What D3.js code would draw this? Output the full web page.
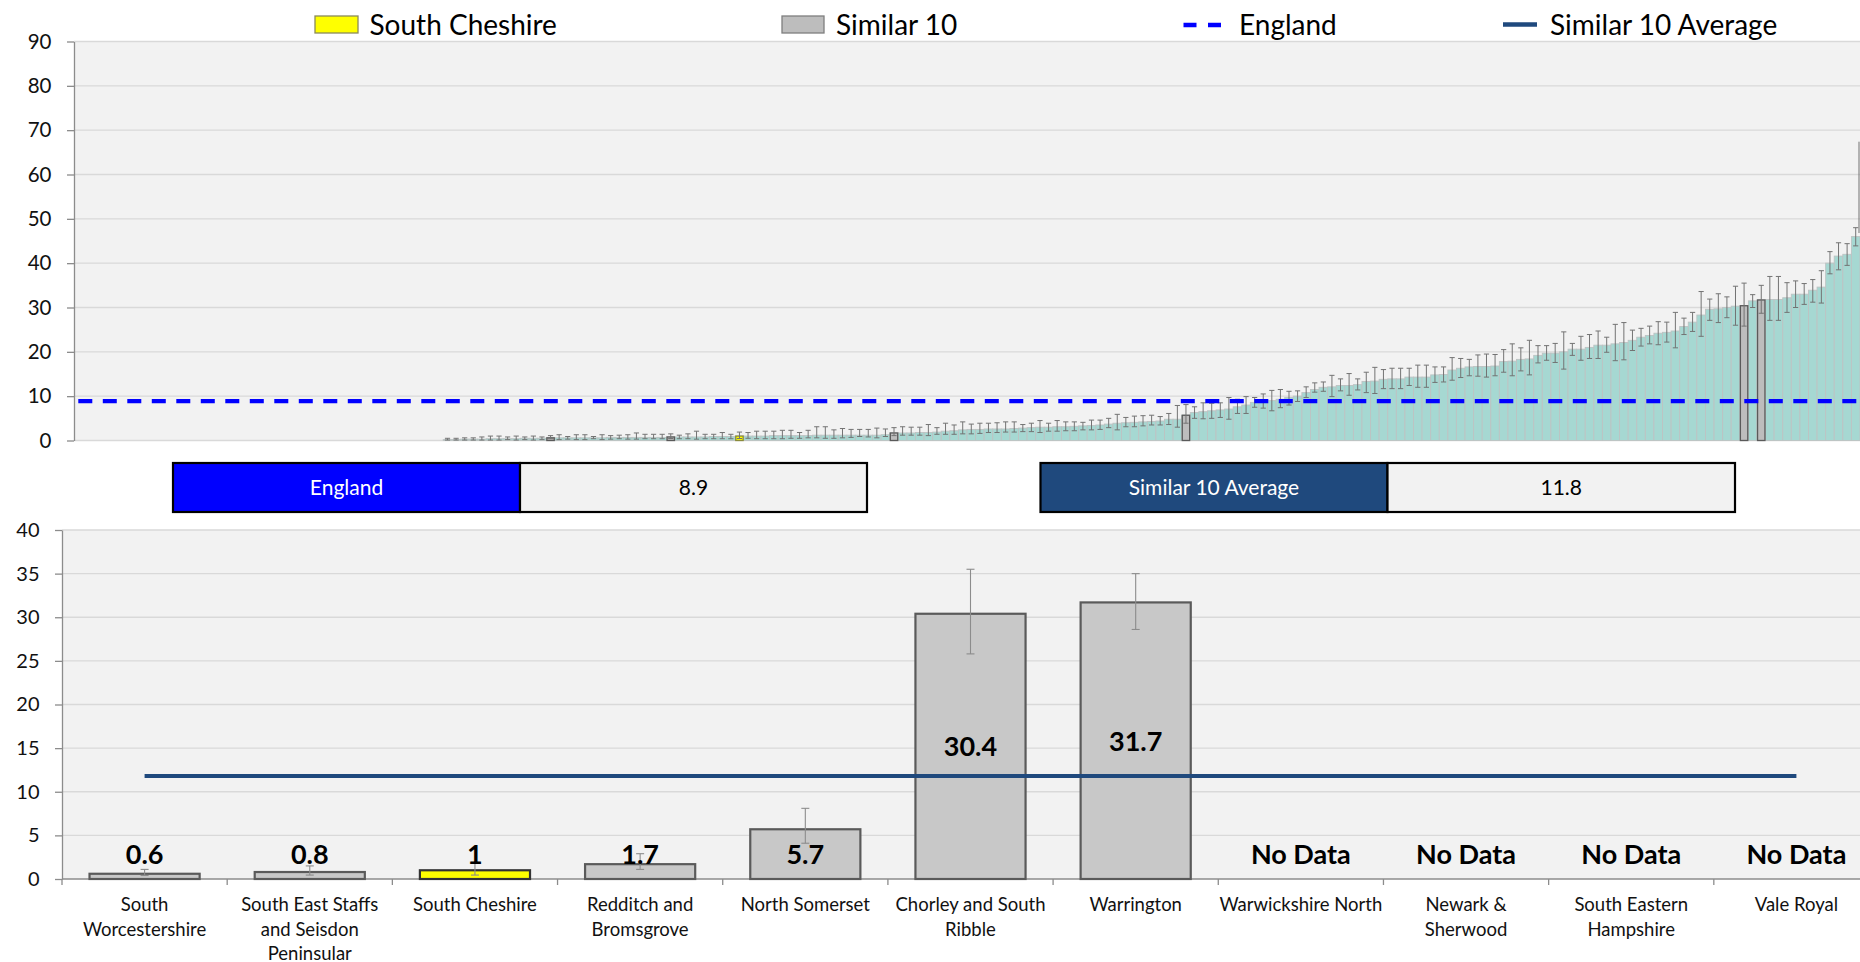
<!DOCTYPE html>
<html><head><meta charset="utf-8">
<script src="https://cdn.jsdelivr.net/npm/d3@7"></script>
<style>
body{margin:0;background:#fff}
svg{display:block}
text{font-family:Lato,'Open Sans','Liberation Sans',sans-serif}
</style>
</head><body>
<svg id="c" width="1860" height="962"></svg>
<script>
// ---------------- DATA ----------------
// Ranked distribution of all areas (top chart); null = no value shown
const rankedValues = [
 null,null,null,null,null,null,null,null,null,null,
 null,null,null,null,null,null,null,null,null,null,
 null,null,null,null,null,null,null,null,null,null,
 null,null,null,null,null,null,null,null,null,null,
 null,null,null,
 0.2,0.2,0.3,0.3,0.3,0.4,0.4,0.4,0.4,0.5,0.5,0.5,0.6,0.6,0.6,0.6,0.6,0.6,0.6,0.7,
 0.7,0.7,0.7,0.7,0.7,0.7,0.8,0.8,0.8,0.8,0.8,0.9,0.9,0.9,1.0,1.0,1.0,1.0,1.1,1.1,
 1.1,1.1,1.1,1.2,1.2,1.2,1.2,1.2,1.2,1.2,1.2,
 1.3,1.7,1.7,1.7,1.8,1.8,1.9,2.1,2.2,2.4,2.5,2.5,2.6,2.6,2.6,2.7,2.8,2.9,3.0,3.0,
 3.1,3.1,3.2,3.3,3.4,3.5,3.7,3.9,
 4.0,4.1,4.2,4.3,4.4,4.8,4.8,5.7,6.3,6.5,6.7,6.9,7.1,7.6,8.0,8.6,8.6,9.0,9.3,9.7,
 10.0,10.8,11.5,12.0,12.1,12.4,12.4,12.6,13.3,
 13.4,13.8,13.9,13.9,14.3,14.3,14.3,14.8,14.9,15.9,16.3,16.6,16.7,16.7,16.8,17.8,
 17.9,18.3,18.4,19.2,19.7,19.7,20.0,20.6,20.6,21.0,21.5,21.5,
 21.8,22.1,22.6,23.3,23.7,24.2,24.4,24.7,25.7,26.7,28.3,29.6,29.7,30.0,30.3,30.4,
 31.5,31.7,31.8,31.8,32.2,33.0,33.0,33.9,34.6,40.0,41.6,42.0,46.0
];
const rankedLower = [
 null,null,null,null,null,null,null,null,null,null,
 null,null,null,null,null,null,null,null,null,null,
 null,null,null,null,null,null,null,null,null,null,
 null,null,null,null,null,null,null,null,null,null,
 null,null,null,
 0.1,0.1,0.1,0.1,0.1,0.1,0.1,0.2,0.1,0.2,0.1,0.2,0.4,0.2,0.3,0.2,0.2,0.4,0.2,0.3,
 0.4,0.3,0.3,0.4,0.4,0.4,0.45,0.4,0.4,0.3,0.4,0.4,0.4,0.4,0.45,0.5,0.4,0.4,0.4,0.4,
 0.5,0.5,0.6,0.6,0.5,0.5,0.6,0.7,0.9,0.8,0.6,
 0.9,1.1,1.2,1.2,1.2,1.1,1.4,1.4,1.4,1.5,1.5,1.6,1.8,1.8,1.9,1.9,2.0,2.0,1.8,2.1,
 2.1,2.2,2.2,2.4,2.4,2.5,2.9,2.4,
 3.1,3.1,3.3,3.5,3.5,3.6,3.0,3.9,5.0,4.9,5.0,5.2,4.8,6.1,6.1,7.5,7.3,6.7,7.4,8.0,
 8.8,9.7,10.9,11.1,9.9,11.2,10.2,11.4,10.8,
 10.6,11.7,11.7,11.7,12.4,12.0,12.0,13.1,13.2,13.6,14.2,14.6,14.5,14.3,14.6,15.4,
 14.6,15.7,14.8,17.5,18.1,17.6,16.1,19.2,18.1,18.5,18.5,19.9,
 18.0,18.2,20.3,21.3,21.8,21.6,22.2,20.9,23.9,24.6,23.5,27.1,26.6,27.7,26.0,25.8,
 30.0,28.7,27.1,27.1,28.9,30.0,30.7,31.2,31.0,37.6,38.5,39.5,43.9
];
const rankedUpper = [
 null,null,null,null,null,null,null,null,null,null,
 null,null,null,null,null,null,null,null,null,null,
 null,null,null,null,null,null,null,null,null,null,
 null,null,null,null,null,null,null,null,null,null,
 null,null,null,
 0.5,0.5,0.6,0.6,0.8,1.0,1.0,0.8,1.0,0.8,1.0,0.8,1.1,1.3,0.9,1.3,1.3,0.9,1.3,1.1,
 1.2,1.3,1.7,1.4,1.4,1.4,1.5,1.2,1.5,2.1,1.4,1.4,1.8,1.4,1.9,1.8,2.1,2.1,2.1,2.3,
 2.3,1.8,2.3,3.1,3.1,2.4,2.7,2.5,2.5,2.5,2.8,
 2.6,2.9,3.1,3.0,3.0,3.6,2.9,3.9,3.5,4.2,3.7,3.9,3.9,4.0,4.2,4.2,3.6,3.9,4.5,3.9,
 4.5,4.2,4.2,4.1,4.6,4.6,5.0,5.9,
 5.2,5.5,5.6,5.7,5.4,6.1,7.9,8.1,7.6,8.5,8.4,8.5,9.7,9.3,9.9,9.7,10.5,11.3,11.5,11.1,
 11.2,12.1,13.0,13.2,14.7,13.9,15.1,13.9,15.4,
 16.5,16.0,16.3,16.3,16.3,17.0,17.0,16.6,16.6,18.7,18.5,18.3,19.3,19.5,19.4,20.5,
 21.8,20.9,22.6,21.4,21.4,21.9,24.5,21.9,23.5,23.9,24.7,23.3,
 26.2,26.6,24.9,25.3,25.8,26.8,26.7,28.9,27.6,28.9,33.6,31.9,33.1,32.4,34.8,35.5,
 32.9,35.0,37.0,37.0,35.6,36.0,35.4,36.3,38.3,42.6,44.6,44.4,48.0
];
// whisker of the next (cropped) area visible at the right edge
const edgeWhisker = [46.8, 67.4];

const topTicks = [0,10,20,30,40,50,60,70,80,90];
const bottomTicks = [0,5,10,15,20,25,30,35,40];

const similarNames = ["South Worcestershire","South East Staffs and Seisdon Peninsular","South Cheshire",
  "Redditch and Bromsgrove","North Somerset","Chorley and South Ribble","Warrington",
  "Warwickshire North","Newark & Sherwood","South Eastern Hampshire","Vale Royal"];
const similarLabelLines = [["South","Worcestershire"],["South East Staffs","and Seisdon","Peninsular"],
  ["South Cheshire"],["Redditch and","Bromsgrove"],["North Somerset"],["Chorley and South","Ribble"],
  ["Warrington"],["Warwickshire North"],["Newark &","Sherwood"],["South Eastern","Hampshire"],["Vale Royal"]];
const similarValues = [0.6,0.8,1.0,1.7,5.7,30.4,31.7,null,null,null,null];
const similarLower  = [0.4,0.45,0.45,1.1,4.1,25.8,28.6,null,null,null,null];
const similarUpper  = [1.1,1.5,1.9,2.9,8.1,35.5,35.0,null,null,null,null];
const similarRank   = [55,69,77,95,129,194,196,null,null,null,null];
const selectedArea = "South Cheshire";
const englandValue = 8.9;
const similarAverage = 11.8;
const legendLabels = ["South Cheshire","Similar 10","England","Similar 10 Average"];

// ---------------- STYLE ----------------
const C = {
  plotBg:"#F2F2F2", grid:"#D9D9D9", axis:"#8C8C8C", teal:"#A6D8D2", tealStroke:"#BDC3C3",
  sim:"#C8C8C8", simStroke:"#5A5A5A", yellow:"#FFFF00", err:"#737373", england:"#0000FF", avg:"#1F497D"
};
const svg = d3.select("#c");
const W = 1860;

// ---------------- TOP CHART ----------------
const tp = {left:74, right:1860, top:41.5, bottom:440.5};
const yT = d3.scaleLinear().domain([0,90]).range([tp.bottom, tp.top]);
const xT = d3.scaleBand().domain(d3.range(rankedValues.length)).range([tp.left, tp.right]).padding(0);
const gT = svg.append("g");
gT.append("rect").attr("x",tp.left).attr("y",tp.top).attr("width",tp.right-tp.left).attr("height",tp.bottom-tp.top).attr("fill",C.plotBg);
gT.selectAll("line.grid").data(topTicks).join("line").attr("class","grid")
  .attr("x1",tp.left).attr("x2",tp.right).attr("y1",d=>yT(d)).attr("y2",d=>yT(d))
  .attr("stroke",C.grid).attr("stroke-width",1.4);
const axT = gT.append("g").attr("transform",`translate(${tp.left},0)`)
  .call(d3.axisLeft(yT).tickValues(topTicks).tickSize(7).tickPadding(15.5).tickSizeOuter(0));
axT.select(".domain").attr("stroke",C.axis).attr("stroke-width",1.3);
axT.selectAll(".tick line").attr("stroke",C.axis).attr("stroke-width",1.3);
axT.selectAll(".tick text").attr("font-size",20.5).attr("fill","#111").style("font-family","Lato,sans-serif");

const ranked = rankedValues.map((v,i)=>({i,v,lo:rankedLower[i],hi:rankedUpper[i]})).filter(d=>d.v!=null);
gT.selectAll("rect.rk").data(ranked).join("rect").attr("class","rk")
  .attr("x",d=>xT(d.i)).attr("width",xT.bandwidth())
  .attr("y",d=>yT(d.v)).attr("height",d=>yT(0)-yT(d.v))
  .attr("fill",C.teal).attr("stroke",C.tealStroke).attr("stroke-width",0.9);

// similar areas highlighted in the ranked chart
const simTop = similarRank.map((r,k)=>({r,k,v:similarValues[k]})).filter(d=>d.r!=null);
gT.selectAll("rect.sm").data(simTop).join("rect").attr("class","sm")
  .attr("x",d=>xT(d.r)+0.6).attr("width",xT.bandwidth()-1.2)
  .attr("y",d=>yT(d.v)).attr("height",d=>yT(0)-yT(d.v))
  .attr("fill",d=>similarNames[d.k]===selectedArea?C.yellow:"#BDBDBD")
  .attr("stroke",d=>similarNames[d.k]===selectedArea?"#8A8A3A":C.simStroke).attr("stroke-width",1.3);

// error bars
const cap = 2.6;
const eb = gT.selectAll("g.eb").data(ranked).join("g").attr("class","eb")
  .attr("stroke",C.err).attr("stroke-width",1);
eb.append("line").attr("x1",d=>xT(d.i)+xT.bandwidth()/2).attr("x2",d=>xT(d.i)+xT.bandwidth()/2)
  .attr("y1",d=>yT(d.lo)).attr("y2",d=>yT(d.hi));
eb.append("line").attr("x1",d=>xT(d.i)+xT.bandwidth()/2-cap).attr("x2",d=>xT(d.i)+xT.bandwidth()/2+cap)
  .attr("y1",d=>yT(d.lo)).attr("y2",d=>yT(d.lo));
eb.append("line").attr("x1",d=>xT(d.i)+xT.bandwidth()/2-cap).attr("x2",d=>xT(d.i)+xT.bandwidth()/2+cap)
  .attr("y1",d=>yT(d.hi)).attr("y2",d=>yT(d.hi));
gT.append("line").attr("x1",tp.right-1).attr("x2",tp.right-1)
  .attr("y1",yT(edgeWhisker[0])).attr("y2",yT(edgeWhisker[1])).attr("stroke",C.err).attr("stroke-width",1);

// England line
const n = rankedValues.length;
gT.append("line").attr("x1",xT(0)+xT.bandwidth()/2).attr("x2",xT(n-1)+xT.bandwidth())
  .attr("y1",yT(englandValue)).attr("y2",yT(englandValue))
  .attr("stroke",C.england).attr("stroke-width",4.3).attr("stroke-dasharray","14 10.5");

// ---------------- LEGEND ----------------
const lg = svg.append("g");
const legendFont = 28, legendBase = 34.5;
lg.append("rect").attr("x",315).attr("y",16).attr("width",43).attr("height",17).attr("fill",C.yellow).attr("stroke","#8A8A5A").attr("stroke-width",1.3);
lg.append("text").attr("x",369.5).attr("y",legendBase).attr("font-size",legendFont).text(legendLabels[0]);
lg.append("rect").attr("x",782).attr("y",16).attr("width",42).attr("height",17).attr("fill","#BDBDBD").attr("stroke","#7F7F7F").attr("stroke-width",1.3);
lg.append("text").attr("x",836).attr("y",legendBase).attr("font-size",legendFont).text(legendLabels[1]);
lg.append("line").attr("x1",1183.5).attr("x2",1221).attr("y1",25).attr("y2",25).attr("stroke",C.england).attr("stroke-width",4.3).attr("stroke-dasharray","13 11.5");
lg.append("text").attr("x",1239).attr("y",legendBase).attr("font-size",legendFont).text(legendLabels[2]);
lg.append("line").attr("x1",1503).attr("x2",1537).attr("y1",24.5).attr("y2",24.5).attr("stroke",C.avg).attr("stroke-width",4.5);
lg.append("text").attr("x",1550).attr("y",legendBase).attr("font-size",legendFont).text(legendLabels[3]);

// ---------------- SUMMARY BOXES ----------------
function summaryBox(x0,xm,x1,fill,label,value){
  const g = svg.append("g");
  const y0=463, h=49;
  g.append("rect").attr("x",x0).attr("y",y0).attr("width",xm-x0).attr("height",h).attr("fill",fill).attr("stroke","#000").attr("stroke-width",2.2);
  g.append("rect").attr("x",xm).attr("y",y0).attr("width",x1-xm).attr("height",h).attr("fill",C.plotBg).attr("stroke","#000").attr("stroke-width",2.2);
  g.append("text").attr("x",(x0+xm)/2).attr("y",y0+h/2+7.5).attr("text-anchor","middle").attr("font-size",21).attr("fill","#fff").text(label);
  g.append("text").attr("x",(xm+x1)/2).attr("y",y0+h/2+7.5).attr("text-anchor","middle").attr("font-size",21).attr("fill","#000").text(value);
}
summaryBox(173,520,867,C.england,"England",String(englandValue));
summaryBox(1040.5,1387.5,1735,C.avg,"Similar 10 Average",String(similarAverage));

// ---------------- BOTTOM CHART ----------------
const bp = {left:62, right:1879, top:530, bottom:879};
const yB = d3.scaleLinear().domain([0,40]).range([bp.bottom, bp.top]);
const xB = d3.scaleBand().domain(similarNames).range([bp.left, bp.right]).paddingInner(1/3).paddingOuter(1/6);
const gB = svg.append("g");
gB.append("rect").attr("x",bp.left).attr("y",bp.top).attr("width",W-bp.left).attr("height",bp.bottom-bp.top).attr("fill",C.plotBg);
gB.selectAll("line.grid").data(bottomTicks.filter(t=>t>0)).join("line").attr("class","grid")
  .attr("x1",bp.left).attr("x2",W).attr("y1",d=>yB(d)).attr("y2",d=>yB(d))
  .attr("stroke",C.grid).attr("stroke-width",1.4);
const axB = gB.append("g").attr("transform",`translate(${bp.left},0)`)
  .call(d3.axisLeft(yB).tickValues(bottomTicks).tickSize(7).tickPadding(15.5).tickSizeOuter(0));
axB.select(".domain").attr("stroke",C.axis).attr("stroke-width",1.3);
axB.selectAll(".tick line").attr("stroke",C.axis).attr("stroke-width",1.3);
axB.selectAll(".tick text").attr("font-size",20).attr("fill","#111").style("font-family","Lato,sans-serif");
// x axis line + category boundary ticks
gB.append("line").attr("x1",bp.left).attr("x2",W).attr("y1",yB(0)).attr("y2",yB(0)).attr("stroke",C.axis).attr("stroke-width",1.3);
const step = xB.step();
gB.selectAll("line.xt").data(d3.range(similarNames.length+1)).join("line").attr("class","xt")
  .attr("x1",k=>bp.left+k*step).attr("x2",k=>bp.left+k*step).attr("y1",yB(0)).attr("y2",yB(0)+6)
  .attr("stroke",C.axis).attr("stroke-width",1.3);

const simData = similarNames.map((name,k)=>({name,k,v:similarValues[k],lo:similarLower[k],hi:similarUpper[k]}));
const hasV = simData.filter(d=>d.v!=null);
gB.selectAll("rect.bar").data(hasV).join("rect").attr("class","bar")
  .attr("x",d=>xB(d.name)).attr("width",xB.bandwidth())
  .attr("y",d=>yB(d.v)).attr("height",d=>yB(0)-yB(d.v))
  .attr("fill",d=>d.name===selectedArea?C.yellow:C.sim)
  .attr("stroke",d=>d.name===selectedArea?"#333":C.simStroke).attr("stroke-width",2.2);
const capB = 4;
const ebB = gB.selectAll("g.ebb").data(hasV).join("g").attr("class","ebb").attr("stroke","#8C8C8C").attr("stroke-width",1.1);
const cx = d=>xB(d.name)+xB.bandwidth()/2;
ebB.append("line").attr("x1",cx).attr("x2",cx).attr("y1",d=>yB(d.lo)).attr("y2",d=>yB(d.hi));
ebB.append("line").attr("x1",d=>cx(d)-capB).attr("x2",d=>cx(d)+capB).attr("y1",d=>yB(d.lo)).attr("y2",d=>yB(d.lo));
ebB.append("line").attr("x1",d=>cx(d)-capB).attr("x2",d=>cx(d)+capB).attr("y1",d=>yB(d.hi)).attr("y2",d=>yB(d.hi));

// average line
gB.append("line").attr("x1",cx(simData[0])).attr("x2",cx(simData[simData.length-1]))
  .attr("y1",yB(similarAverage)).attr("y2",yB(similarAverage))
  .attr("stroke",C.avg).attr("stroke-width",4);

// data labels
const minLabel = 2.85;
gB.selectAll("text.dl").data(simData).join("text").attr("class","dl")
  .attr("x",cx).attr("y",d=>yB(Math.max((d.v||0)/2,minLabel))+10)
  .attr("text-anchor","middle").attr("font-size",27).attr("font-weight","bold").attr("fill","#000")
  .text(d=>d.v==null?"No Data":d3.format("~g")(d.v));

// category labels
const xl = gB.selectAll("text.xl").data(simData).join("text").attr("class","xl")
  .attr("text-anchor","middle").attr("font-size",18.5).attr("fill","#111");
xl.selectAll("tspan").data(d=>similarLabelLines[d.k].map(s=>({s,d}))).join("tspan")
  .attr("x",t=>cx(t.d)).attr("y",(t,j)=>911+j*24.5).text(t=>t.s);
</script>
</body></html>
